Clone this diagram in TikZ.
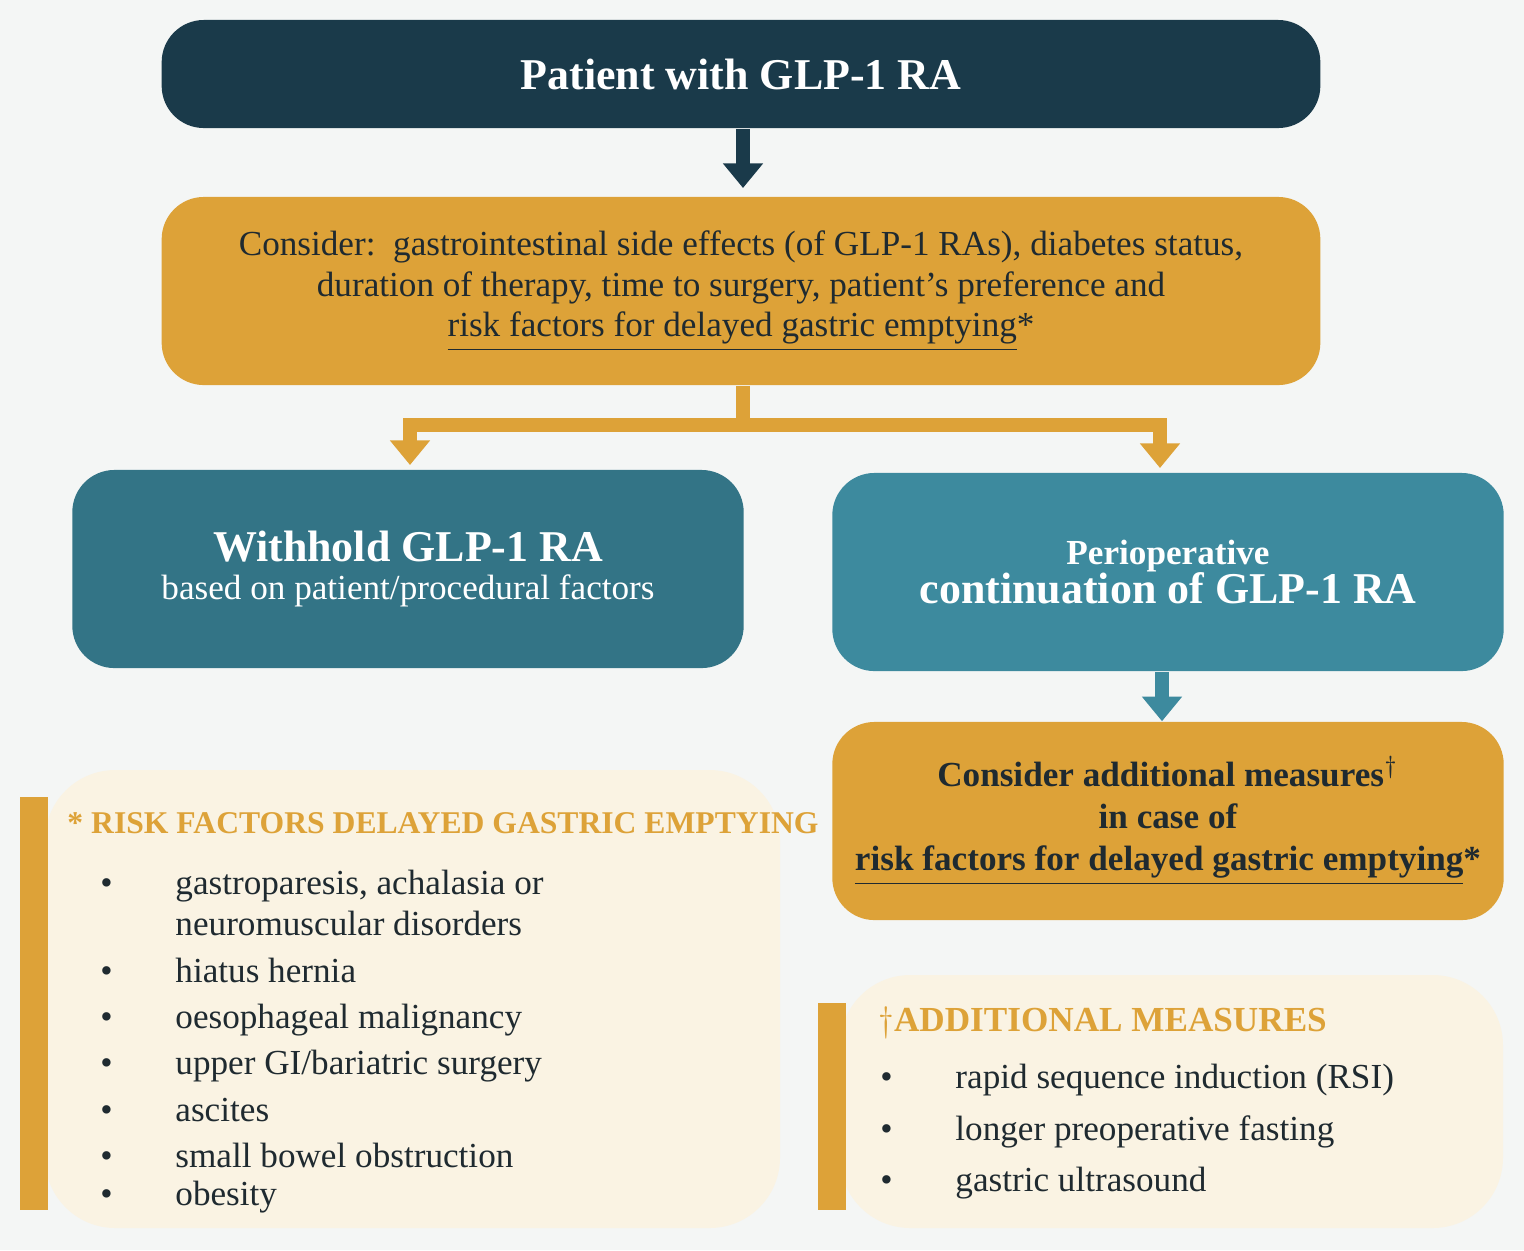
\documentclass[tikz,border=0pt]{standalone}
\usepackage{fontspec}
\setmainfont{Liberation Serif}
\usetikzlibrary{positioning,arrows.meta}
\definecolor{navy}{HTML}{1A3A4A}
\definecolor{ochre}{HTML}{DDA238}
\definecolor{tealdark}{HTML}{337486}
\definecolor{teallight}{HTML}{3D8A9E}
\definecolor{cream}{HTML}{FAF3E3}
\definecolor{ink}{HTML}{1F2A30}
\definecolor{backg}{HTML}{F4F6F5}
\tikzset{
  box/.style={rounded corners=12pt,inner sep=0pt,text centered},
  flow/.style={line width=4pt,-{Triangle[length=7pt,width=11pt]}},
}
\def\bul{\makebox[0pt][l]{\textbullet}\hspace{0.75cm}}
\begin{document}
\begin{tikzpicture}[x=0.01cm,y=-0.01cm]
\useasboundingbox (0,0) rectangle (1524,1250);
\fill[backg] (0,0) rectangle (1524,1250);
% ---------- top
\node[box,fill=navy,minimum width=11.58cm,minimum height=1.08cm,text=white,font=\fontsize{12.5}{14}\selectfont\bfseries] (patient) at (741,74) {Patient with GLP-1 RA};
\node[box,fill=ochre,minimum width=11.58cm,minimum height=1.88cm,text=ink,align=center,font=\fontsize{10}{11.6}\selectfont] (consider) at (741,291)
 {Consider:\ \ gastrointestinal side effects (of GLP-1 RAs), diabetes status,\\ duration of therapy, time to surgery, patient’s preference and\\ \underline{risk factors for delayed gastric emptying}*};
\draw[flow,navy] (patient.south -| 743,0) -- (743,188);
% ---------- split
\node[box,fill=tealdark,minimum width=6.71cm,minimum height=1.98cm,text=white,align=center] (withhold) at (408,569)
 {{\fontsize{12.5}{14}\selectfont\bfseries Withhold GLP-1 RA}\\[-1pt]{\fontsize{10}{12}\selectfont based on patient/procedural factors}};
\node[box,fill=teallight,minimum width=6.71cm,minimum height=1.98cm,text=white,align=center] (contin) at (1168,572)
 {{\fontsize{10}{12}\selectfont\bfseries Perioperative}\\[-1pt]{\fontsize{12.5}{14}\selectfont\bfseries continuation of GLP-1 RA}};
\coordinate (fork) at (743,425);
\draw[ochre,line width=4pt] (consider.south -| fork) -- (fork);
\draw[flow,ochre] (fork) -| (410,465);
\draw[flow,ochre] (fork) -| (1160,468);
\node[box,fill=ochre,minimum width=6.71cm,minimum height=1.98cm,text=ink,align=center,font=\fontsize{10}{12}\selectfont\bfseries] (measures) at (1168,821)
 {Consider additional measures$^\dagger$\\ in case of\\ \underline{risk factors for delayed gastric emptying}*};
\draw[flow,teallight] (contin.south -| 1162,0) -- (measures.north -| 1162,0);
% ---------- risk factor panel
\fill[cream,rounded corners=20pt] (45,770) rectangle (780,1228);
\fill[ochre] (20,797) rectangle (48,1210);
\node[anchor=west,text=ochre,font=\fontsize{9}{11}\selectfont\bfseries] (riskhead) at (55,823) {* RISK FACTORS DELAYED GASTRIC EMPTYING};
\node[anchor=north west,text=ink,align=left,font=\fontsize{10}{11.6}\selectfont] (risklist) at (88,858)
 {\bul gastroparesis, achalasia or\\ \hspace{0.75cm}neuromuscular disorders\\[1.6pt]
  \bul hiatus hernia\\[1.6pt] \bul oesophageal malignancy\\[1.6pt] \bul upper GI/bariatric surgery\\[1.6pt]
  \bul ascites\\[1.6pt] \bul small bowel obstruction\\[-1pt] \bul obesity};
% ---------- additional measures panel
\fill[cream,rounded corners=20pt] (840,975) rectangle (1503,1228);
\fill[ochre] (818,1003) rectangle (846,1210);
\node[anchor=west,text=ochre,font=\fontsize{10}{12}\selectfont\bfseries] (addhead) at (866,1023) {$\dagger$ADDITIONAL MEASURES};
\node[anchor=north west,text=ink,align=left,font=\fontsize{10}{14.6}\selectfont] (addlist) at (868,1052)
 {\bul rapid sequence induction (RSI)\\ \bul longer preoperative fasting\\ \bul gastric ultrasound};
\end{tikzpicture}
\end{document}
